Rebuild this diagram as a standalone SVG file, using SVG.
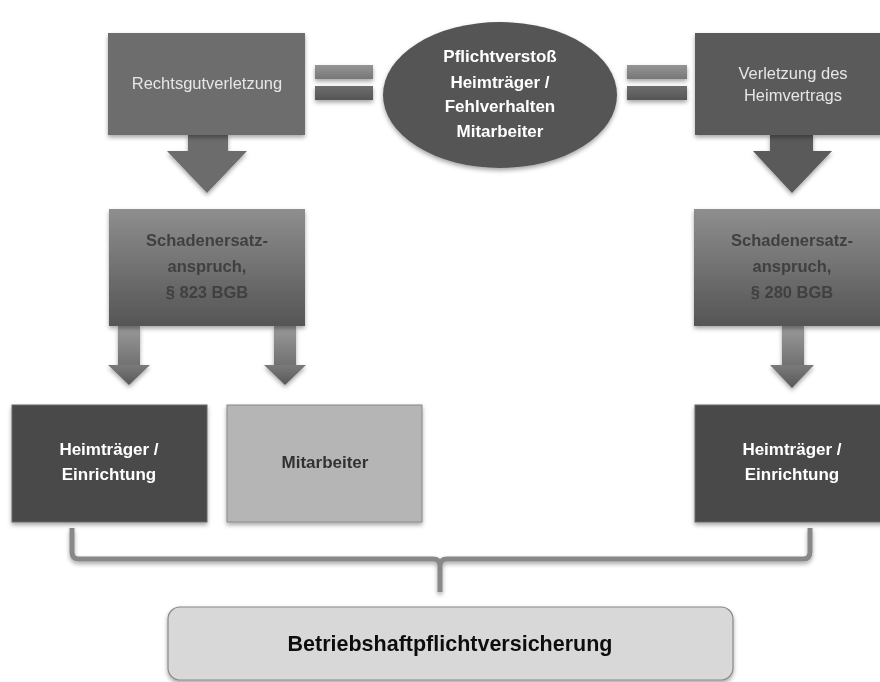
<svg xmlns="http://www.w3.org/2000/svg" width="880" height="682" viewBox="0 0 880 682">
<defs>
<filter id="sh" x="-10%" y="-10%" width="125%" height="130%">
<feDropShadow dx="0" dy="2.5" stdDeviation="2" flood-color="#000" flood-opacity="0.35"/>
</filter>
<linearGradient id="gBox" x1="0" y1="0" x2="0" y2="1">
<stop offset="0" stop-color="#8e8e8e"/>
<stop offset="1" stop-color="#555"/>
</linearGradient>
<linearGradient id="gShaft" x1="0" y1="0" x2="0" y2="1">
<stop offset="0" stop-color="#9a9a9a"/>
<stop offset="1" stop-color="#707070"/>
</linearGradient>
<linearGradient id="gHead" x1="0" y1="0" x2="0" y2="1">
<stop offset="0" stop-color="#7a7a7a"/>
<stop offset="1" stop-color="#585858"/>
</linearGradient>
<linearGradient id="gBarT" x1="0" y1="0" x2="0" y2="1">
<stop offset="0" stop-color="#959595"/>
<stop offset="1" stop-color="#777"/>
</linearGradient>
<linearGradient id="gBarB" x1="0" y1="0" x2="0" y2="1">
<stop offset="0" stop-color="#6e6e6e"/>
<stop offset="1" stop-color="#555"/>
</linearGradient>
</defs>
<style>
.t{font-family:"Liberation Sans",Arial,sans-serif;text-anchor:middle}
.reg{font-size:16.5px;fill:#e6e6e6}
.b{font-weight:bold}
.w{fill:#fff}
.dk{fill:#404040}
</style>

<g id="connectors">
  <g filter="url(#sh)">
    <rect x="315" y="65" width="58" height="14" fill="url(#gBarT)"/>
    <rect x="315" y="86" width="58" height="14" fill="url(#gBarB)"/>
    <rect x="627" y="65" width="60" height="14" fill="url(#gBarT)"/>
    <rect x="627" y="86" width="60" height="14" fill="url(#gBarB)"/>
  </g>
  <polygon filter="url(#sh)" fill="#6c6c6c" points="188,134 228,134 228,151 247,151 207,193 167,151 188,151"/>
  <polygon filter="url(#sh)" fill="#5a5a5a" points="770,134 813,134 813,151 832,151 792,193 753,151 770,151"/>
  <g filter="url(#sh)">
    <rect x="118" y="326" width="22" height="40" fill="url(#gShaft)"/>
    <polygon points="108,365 150,365 129,385" fill="url(#gHead)"/>
    <rect x="274" y="326" width="22" height="40" fill="url(#gShaft)"/>
    <polygon points="264,365 306,365 285,385" fill="url(#gHead)"/>
    <rect x="782" y="326" width="22" height="40" fill="url(#gShaft)"/>
    <polygon points="770,365 814,365 792,388" fill="url(#gHead)"/>
  </g>
  <path filter="url(#sh)" d="M72,528 V552 Q72,559 79,559 H433 Q440,559 440,566 V592 M440,566 Q440,559 447,559 H803 Q810,559 810,552 V528" fill="none" stroke="#888" stroke-width="5"/>
</g>

<g id="rechtsgut" filter="url(#sh)">
  <rect x="108" y="33" width="197" height="102" fill="#6d6d6d"/>
  <text class="t reg" x="207" y="89">Rechtsgutverletzung</text>
</g>

<g id="pflicht" filter="url(#sh)">
  <ellipse cx="500" cy="95" rx="117" ry="73" fill="#555"/>
  <text class="t b w" font-size="17" x="500" y="62">Pflichtverstoß</text>
  <text class="t b w" font-size="17" x="500" y="88">Heimträger /</text>
  <text class="t b w" font-size="17" x="500" y="112">Fehlverhalten</text>
  <text class="t b w" font-size="17" x="500" y="137">Mitarbeiter</text>
</g>

<g id="heimvertrag" filter="url(#sh)">
  <rect x="695" y="33" width="200" height="102" fill="#5a5a5a"/>
  <text class="t reg" x="793" y="79">Verletzung des</text>
  <text class="t reg" x="793" y="101">Heimvertrags</text>
</g>

<g id="anspruch823" filter="url(#sh)">
  <rect x="109" y="209" width="196" height="117" fill="url(#gBox)"/>
  <text class="t b dk" font-size="16.5" x="207" y="246">Schadenersatz-</text>
  <text class="t b dk" font-size="16.5" x="207" y="272">anspruch,</text>
  <text class="t b dk" font-size="16.5" x="207" y="298">§ 823 BGB</text>
</g>

<g id="anspruch280" filter="url(#sh)">
  <rect x="694" y="209" width="200" height="117" fill="url(#gBox)"/>
  <text class="t b dk" font-size="16.5" x="792" y="246">Schadenersatz-</text>
  <text class="t b dk" font-size="16.5" x="792" y="272">anspruch,</text>
  <text class="t b dk" font-size="16.5" x="792" y="298">§ 280 BGB</text>
</g>

<g id="heimtraeger1" filter="url(#sh)">
  <rect x="12" y="405" width="195" height="117" fill="#4a4a4a" stroke="#666" stroke-width="1"/>
  <text class="t b w" font-size="17" x="109" y="455">Heimträger /</text>
  <text class="t b w" font-size="17" x="109" y="480">Einrichtung</text>
</g>

<g id="mitarbeiter" filter="url(#sh)">
  <rect x="227" y="405" width="195" height="117" fill="#b5b5b5" stroke="#888" stroke-width="1"/>
  <text class="t b" font-size="17" fill="#333" x="325" y="468">Mitarbeiter</text>
</g>

<g id="heimtraeger2" filter="url(#sh)">
  <rect x="695" y="405" width="200" height="117" fill="#4a4a4a" stroke="#666" stroke-width="1"/>
  <text class="t b w" font-size="17" x="792" y="455">Heimträger /</text>
  <text class="t b w" font-size="17" x="792" y="480">Einrichtung</text>
</g>

<g id="versicherung" filter="url(#sh)">
  <rect x="168" y="607" width="565" height="73" rx="12" fill="#d8d8d8" stroke="#888" stroke-width="1.2"/>
  <text class="t b" font-size="21.5" fill="#111" x="450" y="651">Betriebshaftpflichtversicherung</text>
</g>
</svg>
